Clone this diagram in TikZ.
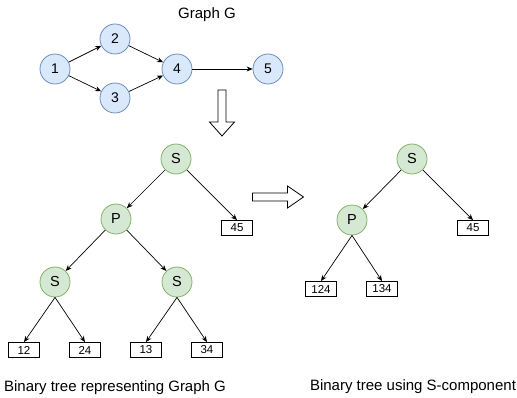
\documentclass[tikz,border=0pt]{standalone}
\usepackage{fontspec}
\setmainfont{Liberation Sans}
\usetikzlibrary{arrows.meta}

\definecolor{gfill}{HTML}{DAE8FC}
\definecolor{gline}{HTML}{6C8EBF}
\definecolor{tfill}{HTML}{D5E8D4}
\definecolor{tline}{HTML}{82B366}

\begin{document}
\begin{tikzpicture}[x=1pt,y=-1pt,
    gnode/.style={circle,draw=gline,fill=gfill,line width=0.8pt,minimum size=30pt,inner sep=0pt,font=\fontsize{14}{16}\selectfont},
    tnode/.style={circle,draw=tline,fill=tfill,line width=0.8pt,minimum size=30pt,inner sep=0pt,font=\fontsize{14.5}{16}\selectfont},
    leaf/.style={draw,line width=0.8pt,minimum width=31pt,minimum height=15pt,inner sep=0pt,font=\fontsize{11.5}{13}\selectfont},
    link/.style={-{Stealth[length=6pt,width=5pt]},line width=0.7pt},
    caption/.style={font=\fontsize{15}{18}\selectfont}]
    \useasboundingbox (0,0) rectangle (517,398);

    % graph G
    \node[caption] (title) at (207,15) {Graph G};
    \node[gnode] (g1) at (55,69) {1};
    \node[gnode] (g2) at (115,39) {2};
    \node[gnode] (g3) at (115,98) {3};
    \node[gnode] (g4) at (177,69) {4};
    \node[gnode] (g5) at (268,69) {5};
    \draw[link] (g1) -- (g2);
    \draw[link] (g1) -- (g3);
    \draw[link] (g2) -- (g4);
    \draw[link] (g3) -- (g4);
    \draw[link] (g4) -- (g5);

    % hollow arrow down
    \draw[line width=0.8pt] (218,90) -- (226,90) -- (226,122) -- (234.5,122) -- (222,136)
        -- (209.5,122) -- (218,122) -- cycle;
    % hollow arrow right
    \draw[line width=0.8pt] (252.5,193) -- (287.5,193) -- (287.5,186) -- (303.5,197)
        -- (287.5,208) -- (287.5,201) -- (252.5,201) -- cycle;

    % left tree
    \node[tnode] (ls) at (176,159) {S};
    \node[tnode] (lp) at (116,219) {P};
    \node[tnode] (lsa) at (55,282) {S};
    \node[tnode] (lsb) at (177,282) {S};
    \node[leaf] (l45) at (237,228) {45};
    \node[leaf] (l12) at (24,350) {12};
    \node[leaf] (l24) at (85,350) {24};
    \node[leaf] (l13) at (146,350) {13};
    \node[leaf] (l34) at (207,350) {34};
    \draw[link] (ls) -- (lp);
    \draw[link] (ls) -- (l45.north);
    \draw[link] (lp) -- (lsa);
    \draw[link] (lp) -- (lsb);
    \draw[link] (lsa.south) -- (l12.north);
    \draw[link] (lsa.south) -- (l24.north);
    \draw[link] (lsb.south) -- (l13.north);
    \draw[link] (lsb.south) -- (l34.north);
    \node[caption] (lcap) at (115,388) {Binary tree representing Graph G};

    % right tree
    \node[tnode] (rs) at (412,159) {S};
    \node[tnode] (rp) at (352,220) {P};
    \node[leaf] (r45) at (473,228) {45};
    \node[leaf] (r124) at (321,289) {124};
    \node[leaf] (r134) at (382,289) {134};
    \draw[link] (rs) -- (rp);
    \draw[link] (rs) -- (r45.north);
    \draw[link] (rp.south) -- (r124.north);
    \draw[link] (rp.south) -- (r134.north);
    \node[caption] (rcap) at (413,387) {Binary tree using S-component};
\end{tikzpicture}
\end{document}
